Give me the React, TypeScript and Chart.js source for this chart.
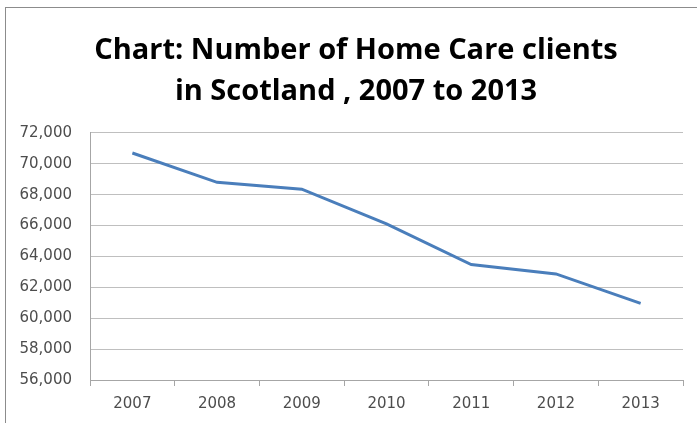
import React, { useEffect, useRef } from "react";
import { Chart, registerables } from "chart.js";

Chart.register(...registerables);

const categories = ["2007", "2008", "2009", "2010", "2011", "2012", "2013"];
const clients = [70700, 68800, 68360, 66110, 63480, 62870, 60960];
const titleLines = ["Chart: Number of Home Care clients", "in Scotland , 2007 to 2013"];
const yMin = 56000;
const yMax = 72000;
const yStep = 2000;

export default function App() {
  const ref = useRef<HTMLCanvasElement | null>(null);

  useEffect(() => {
    if (!ref.current) return;
    const chart = new Chart(ref.current, {
      type: "line",
      data: {
        labels: categories,
        datasets: [
          {
            data: clients,
            borderColor: "#4A7EBB",
            borderWidth: 3,
            pointRadius: 0,
            tension: 0,
            fill: false,
            yAxisID: "y",
          },
        ],
      },
      options: {
        animation: false,
        responsive: false,
        maintainAspectRatio: false,
        layout: { padding: 0 },
        plugins: {
          legend: { display: false },
          tooltip: { enabled: false },
          title: {
            display: true,
            text: titleLines,
            color: "#000000",
            font: { family: "'Open Sans'", size: 29, weight: "bold", lineHeight: 1.42 },
            padding: { top: 30, bottom: 20.6 },
          },
        },
        scales: {
          x: {
            offset: true,
            grid: {
              offset: true,
              drawOnChartArea: false,
              drawTicks: true,
              tickLength: 6,
              color: "#A6A6A6",
            },
            border: { color: "#A6A6A6", width: 1 },
            ticks: {
              color: "#4D4D4D",
              font: { family: "'DejaVu Sans'", size: 15 },
              padding: 9,
              maxRotation: 0,
            },
            afterFit: (axis: any) => {
              axis.height = 43;
            },
          },
          y: {
            min: yMin,
            max: yMax,
            grid: { color: "#BFBFBF", drawTicks: false },
            border: { color: "#A6A6A6", width: 1 },
            ticks: {
              stepSize: yStep,
              color: "#4D4D4D",
              font: { family: "'DejaVu Sans'", size: 15 },
              padding: 18,
              callback: (v: any) => Number(v).toLocaleString("en-US"),
            },
            afterFit: (axis: any) => {
              axis.width = 90;
            },
          },
          yRight: {
            position: "right",
            display: true,
            min: yMin,
            max: yMax,
            grid: { display: false },
            border: { display: false },
            ticks: { display: false },
            afterFit: (axis: any) => {
              axis.width = 29;
            },
          },
        },
      },
    });
    return () => chart.destroy();
  }, []);

  return (
    <div style={{ position: "fixed", left: 0, top: 0, width: 697, height: 423, overflow: "hidden", background: "#fff" }}>
      <canvas ref={ref} width={712} height={423} style={{ position: "absolute", left: 0, top: 0, width: 712, height: 423 }} />
      <div
        style={{
          position: "absolute",
          left: 5,
          top: 7,
          width: 720,
          height: 440,
          border: "1.5px solid #8C8C8C",
          pointerEvents: "none",
        }}
      />
    </div>
  );
}
